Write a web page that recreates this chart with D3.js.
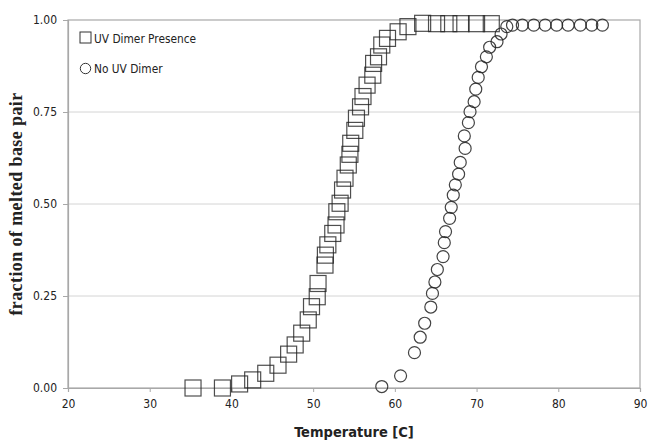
<!DOCTYPE html>
<html>
<head>
<meta charset="utf-8">
<script src="https://cdn.jsdelivr.net/npm/d3@7"></script>
<style>
  body { margin: 0; background: #fff; }
  svg { display: block; }
</style>
</head>
<body>
<div id="chart"></div>
<script>
// UV dimer present (squares): temperature, fraction melted
var uvTemp = [35.3, 38.9, 41.0, 42.6, 44.2, 45.7, 47.0, 47.8, 48.6, 49.4, 49.8, 50.5, 50.6,
  51.45, 51.5, 51.8, 52.4, 52.8, 52.9, 53.3, 53.6, 53.9, 54.3, 54.5, 54.6, 55.1, 55.3, 55.8,
  56.1, 56.6, 57.3, 57.4, 58.0, 58.4, 59.1, 60.4, 61.6, 63.4, 65.1, 66.6, 68.1, 70.0, 71.8];
var uvFrac = [0.0, 0.0, 0.011, 0.022, 0.04, 0.062, 0.092, 0.117, 0.149, 0.185, 0.221, 0.248, 0.284,
  0.334, 0.361, 0.389, 0.42, 0.443, 0.479, 0.502, 0.538, 0.57, 0.606, 0.635, 0.665, 0.70, 0.733, 0.764,
  0.792, 0.823, 0.85, 0.882, 0.90, 0.932, 0.95, 0.968, 0.982, 0.991, 0.99, 0.99, 0.99, 0.99, 0.99];

// no UV dimer (circles)
var noTemp = [58.4, 60.7, 62.4, 63.1, 63.65, 64.4, 64.6, 64.9, 65.2, 65.9, 66.05, 66.2, 66.7, 66.9,
  67.15, 67.4, 67.8, 68.0, 68.6, 68.5, 69.0, 69.2, 69.7, 69.9, 70.2, 70.6, 71.2, 71.6, 72.5, 73.0,
  73.7, 74.4, 75.6, 77.0, 78.4, 79.8, 81.2, 82.7, 84.1, 85.4];
var noFrac = [0.004, 0.033, 0.096, 0.138, 0.176, 0.22, 0.257, 0.288, 0.322, 0.357, 0.395, 0.425, 0.461, 0.491,
  0.524, 0.552, 0.581, 0.613, 0.651, 0.685, 0.721, 0.751, 0.778, 0.812, 0.844, 0.873, 0.90, 0.926, 0.941, 0.962,
  0.982, 0.986, 0.986, 0.986, 0.986, 0.986, 0.986, 0.986, 0.986, 0.986];

var xTicks = [20, 30, 40, 50, 60, 70, 80, 90];
var yTicks = [0, 0.25, 0.5, 0.75, 1];
var legendLabels = ["UV Dimer Presence", "No UV Dimer"];

var W = 650, H = 444;
var m = { top: 20, right: 10, bottom: 56, left: 68 };
var iw = W - m.left - m.right, ih = H - m.top - m.bottom;

var svg = d3.select("#chart").append("svg").attr("width", W).attr("height", H);
var g = svg.append("g").attr("transform", "translate(" + m.left + "," + m.top + ")");

var x = d3.scaleLinear().domain([20, 90]).range([0, iw]);
var y = d3.scaleLinear().domain([0, 1]).range([ih, 0]);

var sansFont = "'DejaVu Sans Condensed', 'DejaVu Sans', sans-serif";

// gridlines
g.selectAll(".grid").data(yTicks.slice(1, 4)).enter().append("line")
  .attr("x1", 0).attr("x2", iw)
  .attr("y1", function (d) { return y(d); }).attr("y2", function (d) { return y(d); })
  .attr("stroke", "#d4d4d4").attr("stroke-width", 1);

// plot frame
g.append("rect").attr("width", iw).attr("height", ih)
  .attr("fill", "none").attr("stroke", "#a8a8a8").attr("stroke-width", 1.2);

var xAxis = g.append("g").attr("transform", "translate(0," + ih + ")")
  .call(d3.axisBottom(x).tickValues(xTicks).tickSize(4).tickPadding(7).tickFormat(d3.format("d")));
var yAxis = g.append("g")
  .call(d3.axisLeft(y).tickValues(yTicks).tickSize(5).tickPadding(6).tickFormat(d3.format(".2f")));

[xAxis, yAxis].forEach(function (a) {
  a.select(".domain").attr("stroke", "#a8a8a8").attr("stroke-width", 1.2);
  a.selectAll(".tick line").attr("stroke", "#a8a8a8");
  a.selectAll("text").attr("font-family", sansFont).attr("font-size", 12).attr("fill", "#222");
});

// squares
var uvData = uvTemp.map(function (t, i) { return [t, uvFrac[i]]; });
var sq = 16;
g.selectAll(".sq").data(uvData).enter().append("rect")
  .attr("x", function (d) { return x(d[0]) - sq / 2; })
  .attr("y", function (d) { return y(d[1]) - sq / 2; })
  .attr("width", sq).attr("height", sq)
  .attr("fill", "none").attr("stroke", "#222").attr("stroke-opacity", 0.8).attr("stroke-width", 1.2);

// circles
var noData = noTemp.map(function (t, i) { return [t, noFrac[i]]; });
g.selectAll(".ci").data(noData).enter().append("circle")
  .attr("cx", function (d) { return x(d[0]); })
  .attr("cy", function (d) { return y(d[1]); })
  .attr("r", 6)
  .attr("fill", "none").attr("stroke", "#222").attr("stroke-opacity", 0.85).attr("stroke-width", 1.2);

// legend
var leg = svg.append("g");
leg.append("rect").attr("x", 80).attr("y", 32).attr("width", 11).attr("height", 11)
  .attr("fill", "none").attr("stroke", "#333").attr("stroke-width", 1);
leg.append("circle").attr("cx", 85.5).attr("cy", 68.5).attr("r", 5.2)
  .attr("fill", "none").attr("stroke", "#333").attr("stroke-width", 1);
leg.selectAll("text").data(legendLabels).enter().append("text")
  .attr("x", 94)
  .attr("y", function (d, i) { return 43 + i * 30; })
  .text(function (d) { return d; })
  .attr("font-family", sansFont).attr("font-size", 11.8).attr("fill", "#222");

// axis titles
svg.append("text")
  .attr("x", m.left + iw / 2).attr("y", 437)
  .attr("text-anchor", "middle")
  .attr("font-family", sansFont).attr("font-weight", "bold").attr("font-size", 14.5).attr("fill", "#222")
  .text("Temperature [C]");

svg.append("text")
  .attr("transform", "translate(22," + (m.top + ih / 2) + ") rotate(-90)")
  .attr("text-anchor", "middle")
  .attr("font-family", "'Liberation Serif', 'Times New Roman', serif").attr("font-weight", "bold")
  .attr("font-size", 18).attr("letter-spacing", 0.4).attr("fill", "#222")
  .text("fraction of melted base pair");
</script>
</body>
</html>
